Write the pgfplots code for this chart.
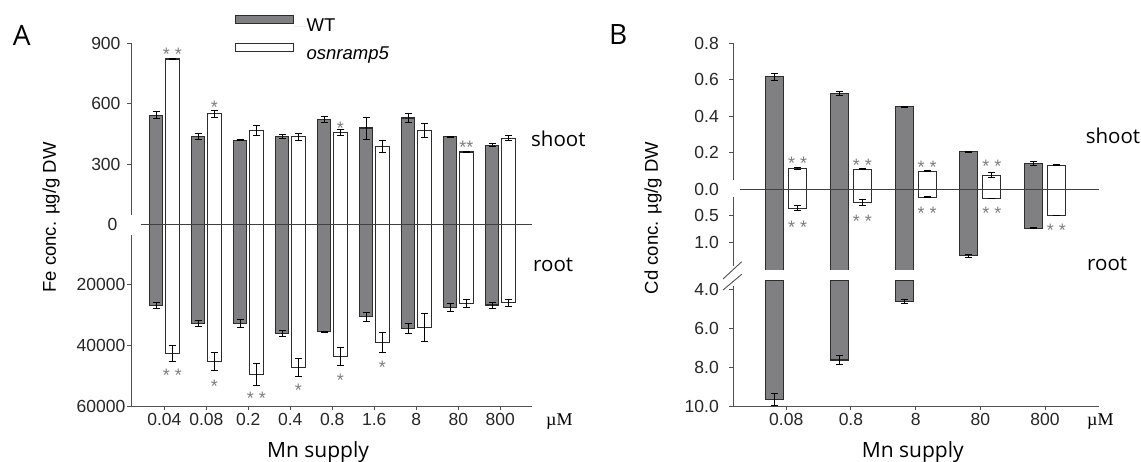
\documentclass[border=0pt]{standalone}
\usepackage{pgfplots}
\pgfplotsset{compat=1.18}
\usepackage{fontspec}
\setmainfont{Liberation Sans}
\newfontfamily\opensans{Open Sans}
\newfontfamily\timesf{Liberation Serif}

\definecolor{wtfill}{RGB}{128,128,131}
\definecolor{baredge}{RGB}{45,45,45}
\definecolor{astgray}{RGB}{125,125,125}
\definecolor{axgray}{RGB}{80,80,80}

\pgfplotsset{
  base/.style={
    scale only axis,
    axis line style={draw=none},
    tick align=outside,
    major tick length=4pt,
    tick style={axgray, line width=0.9pt},
    /pgf/number format/assume math mode=true,
    /pgf/number format/1000 sep={},
    scaled ticks=false,
    tick label style={font=\fontsize{17.5}{20}\selectfont, text=black!85},
  },
  err/.style={
    line width=1.1pt, draw=baredge,
    /pgfplots/error bars/y dir=both,
    /pgfplots/error bars/y explicit,
    /pgfplots/error bars/error bar style={black, line width=0.9pt},
    /pgfplots/error bars/error mark options={rotate=90, mark size=3.5pt, line width=0.9pt, black},
  },
  over/.style={hide axis, scale only axis, clip=false},
  % significance stars: x is the group index plus the offset of the osnramp5 bar
  ast/.style={
    ybar, bar width=1pt, bar shift=0pt, draw=none, fill=none,
    nodes near coords, point meta=explicit symbolic,
    nodes near coords style={font=\fontsize{18}{18}\selectfont, text=astgray,
      anchor=base, inner sep=0pt, yshift=-10.4pt},
  },
}

\begin{document}
\begin{tikzpicture}
\useasboundingbox (0pt,0pt) rectangle (1141pt,-461pt);

% ---------- A: shoot
\begin{axis}[base, at={(131pt,-224.4pt)}, anchor=south west,
  width=401pt, height=181.1pt,
  ybar=2.75pt, bar width=13.5pt,
  xmin=-0.793, xmax=8.755, ymin=0, ymax=900,
  axis x line=none, axis y line*=left,
  xtick=\empty, ytick={300,600,900},
  extra y ticks={0}, extra y tick style={major tick length=0pt, yticklabel style={xshift=-7pt}},
  yticklabel style={xshift=-3pt},
  legend style={at={(axis description cs:0.2594,1.1563)}, anchor=north west,
    draw=none, fill=none, inner sep=0pt, outer sep=0pt, row sep=9.7pt,
    nodes={inner sep=0pt, font=\fontsize{18.5}{20}\selectfont}},
  legend cell align=left]
\addplot[err, fill=wtfill,
  legend image code/.code={\draw[fill=wtfill,draw=baredge,line width=1.1pt] (0pt,2.5pt) rectangle (58pt,10.5pt); \path[draw=none] (58pt,0pt) -- (71pt,0pt);}]
  coordinates {(0,542) +- (0,17) (1,438) +- (0,14) (2,419) +- (0,2) (3,436) +- (0,10)
  (4,522) +- (0,14) (5,479) +- (0,55) (6,529) +- (0,24) (7,436) +- (0,3) (8,394) +- (0,9)};
\addplot[err, fill=white,
  legend image code/.code={\draw[fill=white,draw=baredge,line width=1.1pt] (0pt,2.5pt) rectangle (58pt,10.5pt); \path[draw=none] (58pt,0pt) -- (71pt,0pt);}]
  coordinates {(0,822) +- (0,2) (1,549) +- (0,17) (2,466) +- (0,26) (3,436) +- (0,17)
  (4,456) +- (0,15) (5,388) +- (0,28) (6,466) +- (0,36) (7,360) +- (0,3) (8,428) +- (0,12)};
\legend{WT,\textit{osnramp5}}
\end{axis}
\begin{axis}[over, at={(131pt,-224.4pt)}, anchor=south west,
  width=401pt, height=181.1pt, xmin=-0.793, xmax=8.755, ymin=0, ymax=900]
\addplot[ast] coordinates {(0.1935,867) [* *] (1.1935,605) [*] (4.1935,497) [*] (7.1935,403) [**]};
\end{axis}

% ---------- A: root
\begin{axis}[base, at={(131pt,-224.4pt)}, anchor=north west,
  width=401pt, height=181.6pt, y dir=reverse,
  ybar=2.75pt, bar width=13.5pt,
  xmin=-0.793, xmax=8.755, ymin=0, ymax=60000,
  axis x line*=bottom, axis y line*=left,
  ytick={20000,40000,60000}, yticklabel style={xshift=1.8pt},
  xtick={0,...,8}, xticklabels={0.04,0.08,0.2,0.4,0.8,1.6,8,80,800}]
\addplot[err, fill=wtfill]
  coordinates {(0,26740) +- (0,940) (1,32700) +- (0,1000) (2,32700) +- (0,1380) (3,36000) +- (0,940)
  (4,35470) +- (0,200) (5,30500) +- (0,1440) (6,34370) +- (0,1600) (7,27400) +- (0,1330) (8,26630) +- (0,1000)};
\addplot[err, fill=white]
  coordinates {(0,42540) +- (0,2600) (1,45200) +- (0,3040) (2,49600) +- (0,3540) (3,47200) +- (0,3040)
  (4,43540) +- (0,2930) (5,39000) +- (0,3150) (6,34030) +- (0,4750) (7,26080) +- (0,1380) (8,25860) +- (0,1200)};
\end{axis}
\begin{axis}[over, at={(131pt,-224.4pt)}, anchor=north west,
  width=401pt, height=181.6pt, y dir=reverse, xmin=-0.793, xmax=8.755, ymin=0, ymax=60000]
\addplot[ast] coordinates {(0.1935,48340) [* *] (1.1935,51970) [*] (2.1935,56030) [* *] (3.1935,53390) [*] (4.1935,49990) [*] (5.1935,45690) [*]};
\end{axis}

% ---------- B: shoot
\begin{axis}[base, at={(733.3pt,-189.3pt)}, anchor=south west,
  width=365.2pt, height=146pt,
  ybar=5pt, bar width=18pt,
  xmin=-0.818, xmax=4.827, ymin=0, ymax=0.8,
  axis x line=none, axis y line*=left,
  xtick=\empty, ytick={0.2,0.4,0.6,0.8},
  extra y ticks={0}, extra y tick style={major tick length=0pt, yticklabel style={xshift=-4pt}},
  yticklabel={\pgfmathprintnumber[fixed,fixed zerofill,precision=1]{\tick}},
  yticklabel style={xshift=-7pt}]
\addplot[err, fill=wtfill]
  coordinates {(0,0.617) +- (0,0.019) (1,0.526) +- (0,0.011) (2,0.453) +- (0,0.003) (3,0.206) +- (0,0.002) (4,0.139) +- (0,0.011)};
\addplot[err, fill=white]
  coordinates {(0,0.115) +- (0,0.004) (1,0.110) +- (0,0.002) (2,0.099) +- (0,0.003) (3,0.077) +- (0,0.013) (4,0.132) +- (0,0.002)};
\end{axis}
\begin{axis}[over, at={(733.3pt,-189.3pt)}, anchor=south west,
  width=365.2pt, height=146pt, xmin=-0.818, xmax=4.827, ymin=0, ymax=0.8]
\addplot[ast] coordinates {(0.1777,0.164) [* *] (1.1777,0.157) [* *] (2.1777,0.142) [* *] (3.1777,0.150) [* *]};
\end{axis}

% ---------- B: root, upper segment (bars 0.08-8 run on below the break)
\begin{axis}[base, at={(733.3pt,-189.3pt)}, anchor=north west,
  width=365.2pt, height=80pt, y dir=reverse,
  ybar=5pt, bar width=18pt,
  xmin=-0.818, xmax=4.827, ymin=0, ymax=1.509,
  axis x line=none, axis y line*=left,
  xtick=\empty, ytick={0.5,1.0},
  yticklabel={\pgfmathprintnumber[fixed,fixed zerofill,precision=1]{\tick}},
  yticklabel style={xshift=-7pt}]
\addplot[err, fill=wtfill]
  coordinates {(0,9.66) (1,7.64) (2,4.62) (3,1.25) +- (0,0.03) (4,0.736) +- (0,0.01)};
\addplot[err, fill=white]
  coordinates {(0,0.358) +- (0,0.05) (1,0.252) +- (0,0.06) (2,0.151) +- (0,0.01) (3,0.170) +- (0,0.005) (4,0.494) +- (0,0.005)};
\end{axis}
\begin{axis}[over, at={(733.3pt,-189.3pt)}, anchor=north west,
  width=365.2pt, height=80pt, y dir=reverse, xmin=-0.818, xmax=4.827, ymin=0, ymax=1.509]
\addplot[ast] coordinates {(0.1777,0.642) [* *] (1.1777,0.528) [* *] (2.1777,0.377) [* *] (3.1777,0.377) [* *] (4.1777,0.692) [* *]};
\end{axis}

% ---------- B: root, lower segment
\begin{axis}[base, at={(733.3pt,-406pt)}, anchor=south west,
  width=365.2pt, height=126pt, y dir=reverse,
  ybar=5pt, bar width=18pt,
  xmin=-0.818, xmax=4.827, ymin=3.538, ymax=10,
  axis x line*=bottom, axis y line*=left,
  ytick={4,6,8,10},
  yticklabel={\pgfmathprintnumber[fixed,fixed zerofill,precision=1]{\tick}},
  yticklabel style={xshift=-7pt},
  xtick={0,...,4}, xticklabels={0.08,0.8,8,80,800}]
\addplot[err, fill=wtfill]
  coordinates {(0,9.66) +- (0,0.31) (1,7.64) +- (0,0.22) (2,4.62) +- (0,0.1)};
\addplot[draw=none, fill=none] coordinates {(0,0) (1,0) (2,0)};
\end{axis}

% axis lines, zero lines and break marks
\begin{scope}[axgray, line width=0.9pt]
\draw (131pt,-43.3pt) -- (131pt,-215pt);
\draw (131pt,-235pt) -- (131pt,-406pt) -- (532pt,-406pt);
\draw (733.3pt,-43.3pt) -- (733.3pt,-180pt);
\draw (733.3pt,-196.7pt) -- (733.3pt,-266pt);
\draw (733.3pt,-286pt) -- (733.3pt,-406pt) -- (1098.5pt,-406pt);
\draw (723pt,-279pt) -- (741.7pt,-261.7pt);
\draw (723pt,-290pt) -- (741.7pt,-274.3pt);
\end{scope}
\draw[black!75, line width=0.9pt] (141pt,-224.4pt) -- (532pt,-224.4pt);
\draw[black!75, line width=0.9pt] (740pt,-189.3pt) -- (1098.5pt,-189.3pt);

% texts
\node[font=\opensans\fontsize{28}{28}\selectfont, inner sep=0pt] at (21.7pt,-35pt) {A};
\node[font=\opensans\fontsize{28}{28}\selectfont, inner sep=0pt] at (618.3pt,-34.5pt) {B};
\node[rotate=90, font=\fontsize{18.5}{20}\selectfont, inner sep=0pt] at (51pt,-217.5pt) {Fe conc. µg/g DW};
\node[rotate=90, font=\fontsize{18.5}{20}\selectfont, inner sep=0pt] at (653pt,-218pt) {Cd conc. µg/g DW};
\node[anchor=base, font=\opensans\fontsize{21}{21}\selectfont, inner sep=0pt] at (318pt,-457.7pt) {Mn supply};
\node[anchor=base, font=\opensans\fontsize{21}{21}\selectfont, inner sep=0pt] at (912.8pt,-457.7pt) {Mn supply};
\node[anchor=base west, font=\opensans\fontsize{20.5}{20}\selectfont, inner sep=0pt] at (531pt,-146.7pt) {shoot};
\node[anchor=base west, font=\opensans\fontsize{20.5}{20}\selectfont, inner sep=0pt] at (533pt,-271.7pt) {root};
\node[anchor=base west, font=\opensans\fontsize{20.5}{20}\selectfont, inner sep=0pt] at (1085.6pt,-143.3pt) {shoot};
\node[anchor=base west, font=\opensans\fontsize{20.5}{20}\selectfont, inner sep=0pt] at (1087pt,-270pt) {root};
\node[anchor=base west, font=\timesf\fontsize{18}{18}\selectfont, inner sep=0pt] at (546pt,-425pt) {µM};
\node[anchor=base west, font=\timesf\fontsize{18}{18}\selectfont, inner sep=0pt] at (1087pt,-425pt) {µM};
\end{tikzpicture}
\end{document}
